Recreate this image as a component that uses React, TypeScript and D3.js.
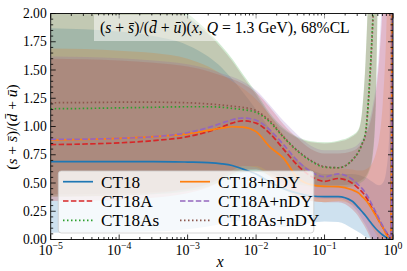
import React, { useEffect, useRef } from 'react';
import * as d3 from 'd3';

// log10(x) grid shared by every curve
const xGrid = [-5, -4.5, -4, -3.5, -3, -2.7, -2.5, -2.35, -2.2, -2, -1.8, -1.6, -1.4, -1.2, -1, -0.8, -0.6, -0.5, -0.45, -0.4, -0.35, -0.3, -0.25, -0.2, -0.15, -0.1, -0.05, -0.03, 0];

const ct18Mid = [0.69, 0.69, 0.69, 0.69, 0.685, 0.68, 0.67, 0.655, 0.625, 0.58, 0.51, 0.45, 0.41, 0.385, 0.38, 0.38, 0.34, 0.28, 0.245, 0.21, 0.17, 0.13, 0.095, 0.065, 0.04, 0.02, 0.005, 0, 3];
const ct18Lo = [0.06, 0.062, 0.065, 0.07, 0.09, 0.115, 0.14, 0.158, 0.165, 0.155, 0.125, 0.11, 0.12, 0.145, 0.16, 0.155, 0.1, 0.065, 0.045, 0.025, 0.01, 0, -0.01, -0.02, -0.03, -0.04, -0.05, -3, -3];
const ct18Hi = [1.87, 1.86, 1.84, 1.8, 1.72, 1.62, 1.52, 1.42, 1.31, 1.15, 0.98, 0.82, 0.7, 0.62, 0.58, 0.58, 0.58, 0.57, 0.56, 0.55, 0.53, 0.51, 0.49, 0.48, 0.5, 0.6, 1.0, 3, 3];

const ct18aMid = [0.84, 0.845, 0.855, 0.875, 0.91, 0.955, 0.995, 1.03, 1.05, 1.03, 0.94, 0.8, 0.66, 0.56, 0.515, 0.54, 0.5, 0.45, 0.42, 0.38, 0.33, 0.27, 0.22, 0.16, 0.11, 0.06, 0.02, 0, 3];
const ct18aLo = [0.34, 0.342, 0.35, 0.37, 0.41, 0.46, 0.52, 0.58, 0.62, 0.62, 0.56, 0.46, 0.38, 0.34, 0.33, 0.33, 0.27, 0.2, 0.15, 0.1, 0.04, -0.03, -0.1, -0.2, -0.35, -0.6, -1, -1, -1];
const ct18aHi = [1.6, 1.595, 1.585, 1.565, 1.53, 1.49, 1.45, 1.42, 1.38, 1.3, 1.17, 1.02, 0.9, 0.8, 0.76, 0.76, 0.78, 0.82, 0.86, 0.92, 1.0, 1.12, 1.3, 1.6, 2.1, 3, 3, 3, 3];

const ct18asMid = [1.157, 1.16, 1.165, 1.17, 1.175, 1.175, 1.17, 1.16, 1.15, 1.125, 1.04, 0.905, 0.785, 0.695, 0.64, 0.635, 0.7, 0.78, 0.85, 0.95, 1.32, 1.88, 2.6, 3.2, 3.5, 3.5, 3.5, 3.5, 3.5];
const ct18asLo = [0.38, 0.383, 0.39, 0.4, 0.43, 0.47, 0.52, 0.56, 0.59, 0.6, 0.57, 0.52, 0.49, 0.47, 0.46, 0.46, 0.47, 0.49, 0.51, 0.54, 0.6, 0.72, 1.2, 3.0, 3.5, 3.5, 3.5, 3.5, 3.5];
const ct18asHi = [2.3, 2.28, 2.25, 2.18, 2.0, 1.84, 1.71, 1.6, 1.47, 1.3, 1.12, 0.99, 0.91, 0.87, 0.86, 0.875, 0.92, 0.98, 1.15, 1.6, 2.4, 3.2, 3.5, 3.5, 3.5, 3.5, 3.5, 3.5, 3.5];

const ct18nMid = [0.88, 0.885, 0.895, 0.91, 0.935, 0.965, 0.985, 0.998, 0.995, 0.955, 0.82, 0.72, 0.55, 0.485, 0.47, 0.468, 0.44, 0.41, 0.38, 0.35, 0.31, 0.26, 0.21, 0.16, 0.11, 0.045, 0.012, 0, 3];
const ct18nLo = [0.38, 0.382, 0.39, 0.41, 0.45, 0.5, 0.56, 0.61, 0.65, 0.64, 0.56, 0.45, 0.37, 0.34, 0.33, 0.34, 0.31, 0.27, 0.24, 0.2, 0.15, 0.1, 0.05, 0, -0.08, -0.2, -0.5, -1, -1];
const ct18nHi = [1.69, 1.685, 1.67, 1.65, 1.6, 1.53, 1.46, 1.4, 1.34, 1.24, 1.1, 0.93, 0.78, 0.68, 0.64, 0.63, 0.62, 0.61, 0.61, 0.62, 0.64, 0.68, 0.76, 0.9, 1.2, 1.8, 3, 3, 3];

const ct18anMid = [0.885, 0.888, 0.895, 0.91, 0.945, 0.99, 1.03, 1.06, 1.075, 1.055, 0.97, 0.84, 0.7, 0.6, 0.555, 0.58, 0.535, 0.48, 0.45, 0.41, 0.36, 0.3, 0.24, 0.18, 0.12, 0.07, 0.025, 0, 3];
const ct18anLo = [0.38, 0.382, 0.39, 0.405, 0.44, 0.49, 0.55, 0.61, 0.65, 0.65, 0.59, 0.49, 0.41, 0.37, 0.36, 0.36, 0.3, 0.23, 0.18, 0.13, 0.07, 0, -0.07, -0.17, -0.3, -0.5, -1, -1, -1];
const ct18anHi = [1.62, 1.615, 1.605, 1.585, 1.55, 1.51, 1.47, 1.44, 1.4, 1.32, 1.19, 1.05, 0.93, 0.83, 0.79, 0.79, 0.81, 0.85, 0.89, 0.95, 1.04, 1.17, 1.36, 1.7, 2.3, 3, 3, 3, 3];

const ct18asnMid = [1.21, 1.212, 1.215, 1.215, 1.21, 1.2, 1.19, 1.18, 1.17, 1.14, 1.05, 0.91, 0.79, 0.7, 0.645, 0.635, 0.7, 0.78, 0.845, 0.94, 1.3, 1.85, 2.6, 3.2, 3.5, 3.5, 3.5, 3.5, 3.5];
const ct18asnLo = [0.4, 0.402, 0.41, 0.42, 0.45, 0.49, 0.54, 0.58, 0.61, 0.62, 0.59, 0.54, 0.51, 0.49, 0.48, 0.48, 0.49, 0.51, 0.53, 0.56, 0.62, 0.75, 1.25, 3.0, 3.5, 3.5, 3.5, 3.5, 3.5];
const ct18asnHi = [2.25, 2.23, 2.2, 2.13, 1.97, 1.82, 1.69, 1.58, 1.45, 1.28, 1.1, 0.975, 0.9, 0.86, 0.85, 0.865, 0.91, 0.97, 1.13, 1.57, 2.35, 3.2, 3.5, 3.5, 3.5, 3.5, 3.5, 3.5, 3.5];

const labels = ['CT18', 'CT18A', 'CT18As', 'CT18+nDY', 'CT18A+nDY', 'CT18As+nDY'];
const colors = ['#1f77b4', '#d62728', '#2ca02c', '#ff7f0e', '#9467bd', '#8c564b'];
const dashes = ['none', '5.5,2.4', '1.5,2.5', 'none', '5.5,2.4', '1.5,2.5'];
const mids = [ct18Mid, ct18aMid, ct18asMid, ct18nMid, ct18anMid, ct18asnMid];
const los = [ct18Lo, ct18aLo, ct18asLo, ct18nLo, ct18anLo, ct18asnLo];
const his = [ct18Hi, ct18aHi, ct18asHi, ct18nHi, ct18anHi, ct18asnHi];

const yTicks = [0, 0.25, 0.5, 0.75, 1, 1.25, 1.5, 1.75, 2];
const xDecades = [-5, -4, -3, -2, -1, 0];

const X0 = 50.7, X1 = 393, Y0 = 13.5, Y1 = 239.5;
const FONT = '"Liberation Serif", "DejaVu Serif", serif';

export default function App() {
  const svgRef = useRef<SVGSVGElement>(null);

  useEffect(() => {
    document.body.style.margin = '0';
    const svg = d3.select(svgRef.current);
    svg.selectAll('*').remove();

    const x = d3.scaleLog().domain([1e-5, 1]).range([X0, X1]);
    const y = d3.scaleLinear().domain([0, 2]).range([Y1, Y0]);

    svg.append('defs').append('clipPath').attr('id', 'plotclip')
      .append('rect').attr('x', X0).attr('y', Y0).attr('width', X1 - X0).attr('height', Y1 - Y0);

    const plot = svg.append('g').attr('clip-path', 'url(#plotclip)');

    // bands
    labels.forEach((_, k) => {
      const pts = xGrid.map((g, i) => ({ x: Math.pow(10, g), lo: los[k][i], hi: his[k][i] }));
      const area = d3.area<any>()
        .x((d) => x(d.x))
        .y0((d) => y(d.lo))
        .y1((d) => y(d.hi))
        .curve(d3.curveMonotoneX);
      plot.append('path').datum(pts)
        .attr('d', area)
        .attr('fill', colors[k])
        .attr('fill-opacity', 0.22);
    });

    // central curves
    labels.forEach((_, k) => {
      const pts = xGrid.map((g, i) => ({ x: Math.pow(10, g), v: mids[k][i] }));
      const line = d3.line<any>()
        .x((d) => x(d.x))
        .y((d) => y(d.v))
        .curve(d3.curveMonotoneX);
      plot.append('path').datum(pts)
        .attr('d', line)
        .attr('fill', 'none')
        .attr('stroke', colors[k])
        .attr('stroke-width', 1.7)
        .attr('stroke-dasharray', dashes[k]);
    });

    // ticks, pointing inwards on all four sides
    const ticks = svg.append('g').attr('stroke', '#000').attr('stroke-width', 0.8);
    const yMinor = d3.range(0, 2.0001, 0.05);
    yMinor.forEach((v) => {
      const major = Math.abs(v / 0.25 - Math.round(v / 0.25)) < 1e-6;
      const len = major ? 5 : 2.5;
      ticks.append('line').attr('x1', X0).attr('x2', X0 + len).attr('y1', y(v)).attr('y2', y(v));
      ticks.append('line').attr('x1', X1).attr('x2', X1 - len).attr('y1', y(v)).attr('y2', y(v));
    });
    xDecades.forEach((k) => {
      const xv = x(Math.pow(10, k));
      ticks.append('line').attr('x1', xv).attr('x2', xv).attr('y1', Y1).attr('y2', Y1 - 5);
      ticks.append('line').attr('x1', xv).attr('x2', xv).attr('y1', Y0).attr('y2', Y0 + 5);
      if (k < 0) {
        d3.range(2, 10).forEach((m) => {
          const xm = x(m * Math.pow(10, k));
          ticks.append('line').attr('x1', xm).attr('x2', xm).attr('y1', Y1).attr('y2', Y1 - 2.5);
          ticks.append('line').attr('x1', xm).attr('x2', xm).attr('y1', Y0).attr('y2', Y0 + 2.5);
        });
      }
    });

    svg.append('rect')
      .attr('x', X0).attr('y', Y0).attr('width', X1 - X0).attr('height', Y1 - Y0)
      .attr('fill', 'none').attr('stroke', '#000').attr('stroke-width', 0.9);

    // tick labels
    yTicks.forEach((v) => {
      svg.append('text')
        .attr('x', X0 - 4).attr('y', y(v)).attr('dy', '0.34em')
        .attr('text-anchor', 'end')
        .attr('font-family', FONT).attr('font-size', 13.6)
        .text(d3.format('.2f')(v));
    });
    xDecades.forEach((k) => {
      const t = svg.append('text')
        .attr('x', x(Math.pow(10, k))).attr('y', 254.5)
        .attr('text-anchor', 'middle')
        .attr('font-family', FONT).attr('font-size', 14);
      t.append('tspan').text('10');
      t.append('tspan').attr('dy', -6).attr('font-size', 9.8).text(k === 0 ? '0' : '\u2212' + Math.abs(k));
    });

    // axis labels
    svg.append('text')
      .attr('x', 220).attr('y', 267)
      .attr('text-anchor', 'middle')
      .attr('font-family', FONT).attr('font-size', 16).attr('font-style', 'italic')
      .text('x');

    const yl = svg.append('text')
      .attr('transform', 'translate(17,127) rotate(-90)')
      .attr('text-anchor', 'middle')
      .attr('font-family', FONT).attr('font-size', 15.5);
    yl.append('tspan').text('(');
    yl.append('tspan').attr('font-style', 'italic').text('s');
    yl.append('tspan').text(' + ');
    yl.append('tspan').attr('font-style', 'italic').text('s\u0304');
    yl.append('tspan').text(')/(');
    yl.append('tspan').attr('font-style', 'italic').text('d\u0304');
    yl.append('tspan').text(' + ');
    yl.append('tspan').attr('font-style', 'italic').text('\u016b');
    yl.append('tspan').text(')');

    // title box
    svg.append('rect')
      .attr('x', 94).attr('y', 15).attr('width', 262).attr('height', 26)
      .attr('fill', '#fff').attr('fill-opacity', 0.5);
    const tt = svg.append('text')
      .attr('x', 100).attr('y', 33)
      .attr('font-family', FONT).attr('font-size', 15.7);
    const parts: [string, boolean][] = [
      ['(', false], ['s', true], [' + ', false], ['s\u0304', true], [')/(', false],
      ['d\u0304', true], [' + ', false], ['\u016b', true], [')(', false], ['x', true],
      [', ', false], ['Q', true], [' = 1.3 GeV), 68%CL', false],
    ];
    parts.forEach(([s, it]) => {
      const sp = tt.append('tspan').text(s);
      if (it) sp.attr('font-style', 'italic');
    });

    // legend
    const lg = svg.append('g');
    lg.append('rect')
      .attr('x', 58.3).attr('y', 171).attr('width', 255.5).attr('height', 62).attr('rx', 3)
      .attr('fill', '#fff').attr('fill-opacity', 0.8)
      .attr('stroke', '#ccc').attr('stroke-width', 0.8);
    labels.forEach((name, k) => {
      const col = Math.floor(k / 3);
      const row = k % 3;
      const hx = col === 0 ? 63 : 180;
      const ty = 181.7 + row * 19.3;
      lg.append('line')
        .attr('x1', hx).attr('x2', hx + 30).attr('y1', ty).attr('y2', ty)
        .attr('stroke', colors[k]).attr('stroke-width', 1.7)
        .attr('stroke-dasharray', dashes[k]);
      lg.append('text')
        .attr('x', hx + 38).attr('y', ty).attr('dy', '0.35em')
        .attr('font-family', FONT).attr('font-size', 17.2)
        .text(name);
    });
  }, []);

  return <svg ref={svgRef} width={407} height={271} style={{ display: 'block' }} />;
}
